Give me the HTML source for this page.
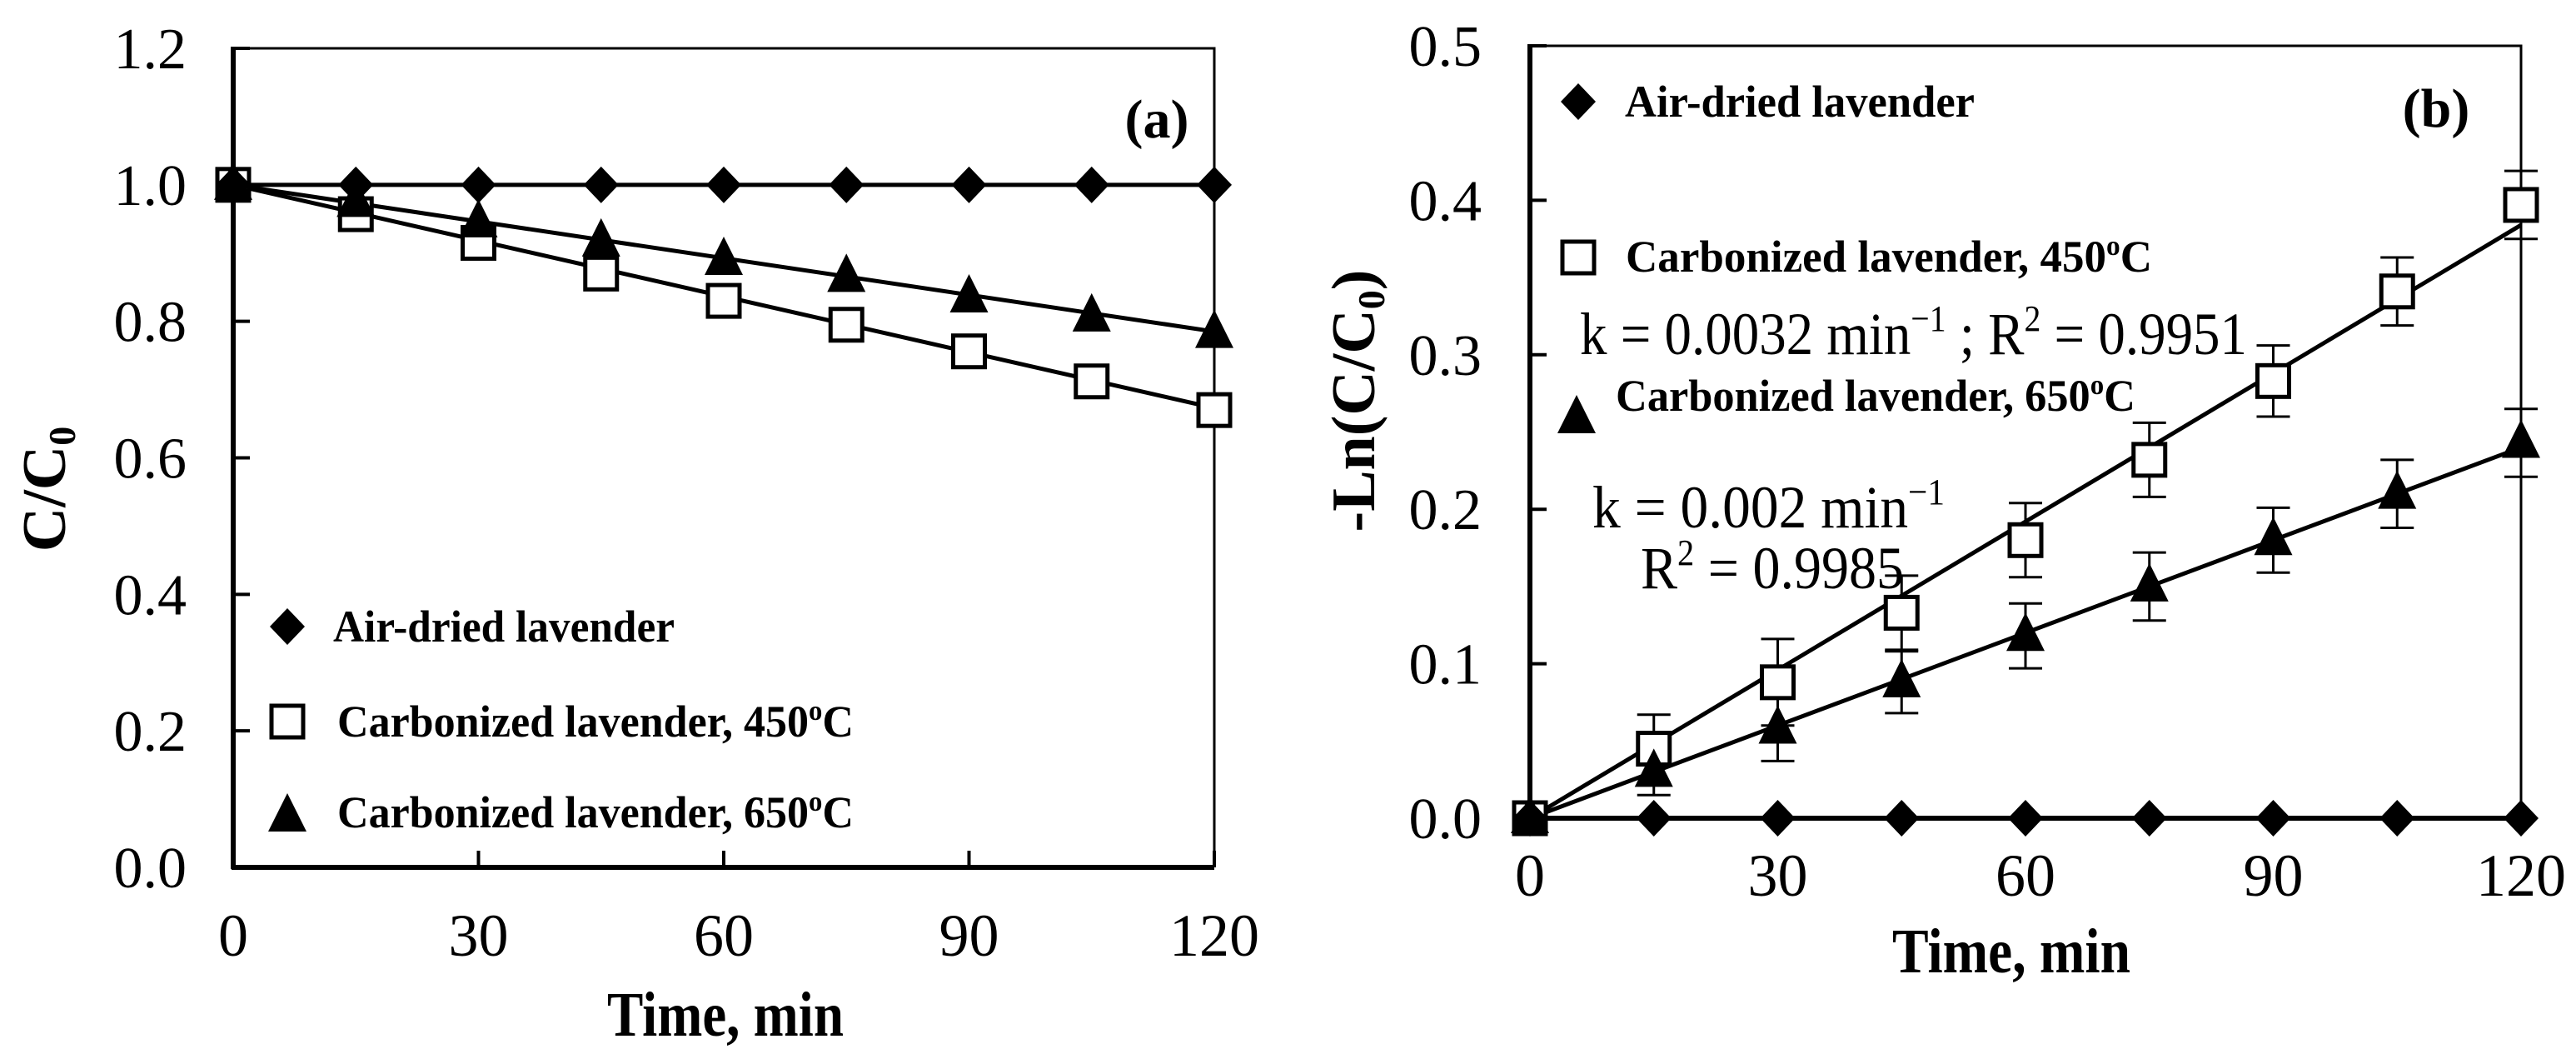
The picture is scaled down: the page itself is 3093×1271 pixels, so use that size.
<!DOCTYPE html>
<html><head><meta charset="utf-8"><style>
html,body{margin:0;padding:0;background:#fff}
svg{display:block}
text{font-family:"Liberation Serif",serif;fill:#000}
</style></head><body>
<svg id="fig" width="3093" height="1271" viewBox="0 0 3093 1271" xmlns="http://www.w3.org/2000/svg">
<g id="pa"></g>
<g id="pb"></g>
</svg>
<script>
const times = [0, 15, 30, 45, 60, 75, 90, 105, 120];
const xTicks = [0, 30, 60, 90, 120];
// Panel (a) C/C0
const aAir = [1, 1, 1, 1, 1, 1, 1, 1, 1];
const a450 = [1, 0.957, 0.915, 0.87, 0.83, 0.795, 0.756, 0.712, 0.670];
const a650 = [1, 0.975, 0.945, 0.917, 0.89, 0.865, 0.835, 0.807, 0.783];
const a450Fit = [1, 0.673];
const a650Fit = [1, 0.785];
const aYTicks = ["0.0","0.2","0.4","0.6","0.8","1.0","1.2"];
// Panel (b) -Ln(C/C0)
const bAir = [0, 0, 0, 0, 0, 0, 0, 0, 0];
const b450 = [0, 0.045, 0.088, 0.133, 0.18, 0.232, 0.283, 0.341, 0.397];
const b650 = [0, 0.030, 0.058, 0.088, 0.118, 0.15, 0.18, 0.21, 0.243];
const b450Err = [0, 0.022, 0.028, 0.024, 0.024, 0.024, 0.023, 0.022, 0.022];
const b650Err = [0, 0.015, 0.021, 0.02, 0.021, 0.022, 0.021, 0.022, 0.022];
const b450Slope = [0.0032];
const b650Slope = [0.002];
const bYTicks = ["0.0","0.1","0.2","0.3","0.4","0.5"];

const NS = "http://www.w3.org/2000/svg";
function mk(parent, tag, attrs, txt){
  const e = document.createElementNS(NS, tag);
  for (const k in attrs) e.setAttribute(k, attrs[k]);
  if (txt !== undefined) e.textContent = txt;
  parent.appendChild(e);
  return e;
}
function makeAxes(L, R, T, B, yMax){
  return {
    x: t => L + (t/120)*(R-L),
    y: v => B - (v/yMax)*(B-T)
  };
}
function marker(g, type, cx, cy){
  let e;
  if (type === 'diamond') {
    e = mk(g,'polygon',{points:`${cx},${cy-22} ${cx+21},${cy} ${cx},${cy+22} ${cx-21},${cy}`,fill:'#000'});
  } else if (type === 'square') {
    e = mk(g,'rect',{x:cx-19,y:cy-19,width:38,height:38,fill:'#fff',stroke:'#000','stroke-width':5});
  } else {
    e = mk(g,'polygon',{points:`${cx},${cy-28} ${cx+23},${cy+18} ${cx-23},${cy+18}`,fill:'#000'});
  }
  return e;
}
function frame(g, L, R, T, B, yTicks, yMax, ax, labelRight, xLabBase){
  const f = mk(g,'path',{d:`M${L},${T} H${R} V${B}`,fill:'none',stroke:'#000','stroke-width':3});
  
  
  const ya = mk(g,'line',{x1:L,y1:T-2,x2:L,y2:B+2,stroke:'#000','stroke-width':6});
  
  
  const xa = mk(g,'line',{x1:L-2,y1:B,x2:R,y2:B,stroke:'#000','stroke-width':6});
  
  
  yTicks.forEach((lab)=>{
    const y = ax.y(parseFloat(lab));
    mk(g,'line',{x1:L,y1:y,x2:L+20,y2:y,stroke:'#000','stroke-width':4});
    const t = mk(g,'text',{x:labelRight,y:y+24,'font-size':70,'text-anchor':'end'},lab);
    
    
  });
  xTicks.forEach(v=>{
    const x = ax.x(v);
    mk(g,'line',{x1:x,y1:B,x2:x,y2:B-20,stroke:'#000','stroke-width':4});
    const t = mk(g,'text',{x:x,y:xLabBase,'font-size':72,'text-anchor':'middle'},String(v));
    
    
  });
}
function series(g, ax, vals, type, name){
  const sg = mk(g,'g',{});
  
  
  vals.forEach((v,i)=>{
    const m = marker(sg, type, ax.x(times[i]), ax.y(v));
    
    
  });
  return sg;
}
function line(g, ax, t0, v0, t1, v1, name){
  const l = mk(g,'line',{x1:ax.x(t0),y1:ax.y(v0),x2:ax.x(t1),y2:ax.y(v1),stroke:'#000','stroke-width':5});
  
  
}
function errbars(g, ax, vals, errs, name){
  vals.forEach((v,i)=>{
    if (!errs[i]) return;
    const x = ax.x(times[i]);
    const y1 = ax.y(v+errs[i]), y2 = ax.y(v-errs[i]);
    const eg = mk(g,'path',{d:`M${x},${y1} V${y2} M${x-20},${y1} H${x+20} M${x-20},${y2} H${x+20}`,stroke:'#000','stroke-width':3,fill:'none'});
    
    
  });
}
function legendText(g, x, y, s, len, name){
  const t = mk(g,'text',{x:x,y:y,'font-size':54,'font-weight':'bold',textLength:len,lengthAdjust:'spacingAndGlyphs'});
  t.innerHTML = s;
  
  
}

// ---------- Panel a ----------
(function(){
  const g = document.getElementById('pa');
  const L=280,R=1458,T=58,B=1041;
  const ax = makeAxes(L,R,T,B,1.2);
  frame(g,L,R,T,B,aYTicks,1.2,ax,224,1147);
  line(g,ax,0,aAir[0],120,aAir[8],'fit-line-air-dried');
  line(g,ax,0,a450Fit[0],120,a450Fit[1],'fit-line-450c');
  line(g,ax,0,a650Fit[0],120,a650Fit[1],'fit-line-650c');
  series(g,ax,a450,'square','series-450c');
  series(g,ax,a650,'triangle','series-650c');
  series(g,ax,aAir,'diamond','series-air-dried');
  // legend
  const lg = mk(g,'g',{});
  
  
  marker(lg,'diamond',345,752);
  legendText(lg,400,770,'Air-dried lavender',410,'legend-entry-air-dried');
  marker(lg,'square',345,866);
  legendText(lg,405,884,'Carbonized lavender, 450<tspan font-size="34" dy="-20">o</tspan><tspan dy="20">C</tspan>',620,'legend-entry-450c');
  marker(lg,'triangle',345,980);
  legendText(lg,405,993,'Carbonized lavender, 650<tspan font-size="34" dy="-20">o</tspan><tspan dy="20">C</tspan>',620,'legend-entry-650c');
  const pl = mk(g,'text',{x:1389,y:165,'font-size':66,'font-weight':'bold','text-anchor':'middle'},'(a)');
  
  
  const xt = mk(g,'text',{x:871,y:1243,'font-size':76,'font-weight':'bold','text-anchor':'middle',textLength:284,lengthAdjust:'spacingAndGlyphs'},'Time, min');
  
  
  const yt = mk(g,'text',{x:0,y:0,'font-size':74,'font-weight':'bold','text-anchor':'middle',transform:'translate(78,587) rotate(-90)'});
  yt.innerHTML = 'C/C<tspan font-size="46" dy="12">0</tspan>';
  
  
})();

// ---------- Panel b ----------
(function(){
  const g = document.getElementById('pb');
  const L=1837,R=3027,T=55,B=982;
  const ax = makeAxes(L,R,T,B,0.5);
  frame(g,L,R,T,B,bYTicks,0.5,ax,1779,1075);
  line(g,ax,0,0,120,0,'fit-line-air-dried');
  line(g,ax,0,0,120,b450Slope[0]*120,'fit-line-450c');
  line(g,ax,0,0,120,b650Slope[0]*120,'fit-line-650c');
  errbars(g,ax,b450,b450Err,'error-bar-450c');
  errbars(g,ax,b650,b650Err,'error-bar-650c');
  series(g,ax,b450,'square','series-450c');
  series(g,ax,b650,'triangle','series-650c');
  series(g,ax,bAir,'diamond','series-air-dried');
  const lg = mk(g,'g',{});
  
  
  marker(lg,'diamond',1895,122);
  legendText(lg,1951,140,'Air-dried lavender',420,'legend-entry-air-dried');
  marker(lg,'square',1895,309);
  legendText(lg,1952,326,'Carbonized lavender, 450<tspan font-size="34" dy="-20">o</tspan><tspan dy="20">C</tspan>',632,'legend-entry-450c');
  marker(lg,'triangle',1893,502);
  legendText(lg,1940,493,'Carbonized lavender, 650<tspan font-size="34" dy="-20">o</tspan><tspan dy="20">C</tspan>',624,'legend-entry-650c');
  const k1 = mk(g,'text',{x:1897,y:425,'font-size':72,textLength:801,lengthAdjust:'spacingAndGlyphs'});
  k1.innerHTML = 'k = 0.0032  min<tspan font-size="44" dy="-28">−1</tspan><tspan dy="28"> ; R</tspan><tspan font-size="44" dy="-28">2</tspan><tspan dy="28"> = 0.9951</tspan>';
  
  
  const k2 = mk(g,'text',{x:1912,y:633,'font-size':72,textLength:423,lengthAdjust:'spacingAndGlyphs'});
  k2.innerHTML = 'k = 0.002  min<tspan font-size="44" dy="-28">−1</tspan>';
  
  
  const r2 = mk(g,'text',{x:1970,y:706,'font-size':72,textLength:316,lengthAdjust:'spacingAndGlyphs'});
  r2.innerHTML = 'R<tspan font-size="44" dy="-28">2</tspan><tspan dy="28"> = 0.9985</tspan>';
  
  
  const pl = mk(g,'text',{x:2925,y:152,'font-size':66,'font-weight':'bold','text-anchor':'middle'},'(b)');
  
  
  const xt = mk(g,'text',{x:2415,y:1167,'font-size':76,'font-weight':'bold','text-anchor':'middle',textLength:286,lengthAdjust:'spacingAndGlyphs'},'Time, min');
  
  
  const yt = mk(g,'text',{x:0,y:0,'font-size':74,'font-weight':'bold','text-anchor':'middle',transform:'translate(1650,481) rotate(-90)'});
  yt.innerHTML = '-Ln(C/C<tspan font-size="46" dy="12">0</tspan><tspan dy="-12">)</tspan>';
  
  
})();
</script>
</body></html>
